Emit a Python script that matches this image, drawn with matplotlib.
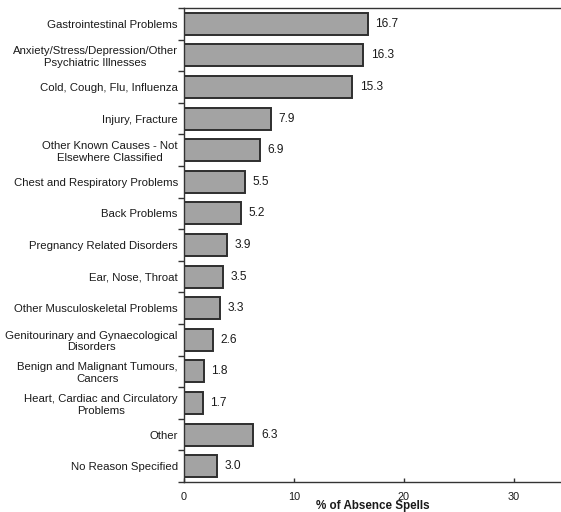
import matplotlib
matplotlib.use("Agg")
import matplotlib.pyplot as plt
from matplotlib.ticker import FixedLocator

plt.rcParams['font.family'] = ['Liberation Sans', 'DejaVu Sans']

categories = [
    "Gastrointestinal Problems",
    "Anxiety/Stress/Depression/Other\nPsychiatric Illnesses",
    "Cold, Cough, Flu, Influenza",
    "Injury, Fracture",
    "Other Known Causes - Not\nElsewhere Classified",
    "Chest and Respiratory Problems",
    "Back Problems",
    "Pregnancy Related Disorders",
    "Ear, Nose, Throat",
    "Other Musculoskeletal Problems",
    "Genitourinary and Gynaecological\nDisorders",
    "Benign and Malignant Tumours,\nCancers",
    "Heart, Cardiac and Circulatory\nProblems",
    "Other",
    "No Reason Specified",
]
values = [16.7, 16.3, 15.3, 7.9, 6.9, 5.5, 5.2, 3.9, 3.5, 3.3, 2.6, 1.8, 1.7, 6.3, 3.0]
xticks = [0, 10, 20, 30]

fig = plt.figure(figsize=(5.61, 5.12), dpi=100)
ax = fig.add_axes([184 / 561, 1 - 482 / 512, 1 - 184 / 561, (482 - 8) / 512])

ypos = list(range(len(categories)))
ax.barh(ypos, values, height=0.7, color="#a3a3a3", edgecolor="#2e2e2e", linewidth=1.4)

for y, v in zip(ypos, values):
    ax.text(v + 0.7, y, f"{v:.1f}", va="center", ha="left", fontsize=8.6, color="#1a1a1a")

ax.set_ylim(len(categories) - 0.5, -0.5)
ax.set_xlim(0, (561 - 184) / 11.0)
ax.set_yticks(ypos)
ax.set_yticklabels(categories, fontsize=8.2, color="#1a1a1a", linespacing=1.2,
                   multialignment="center")
ax.tick_params(axis="y", length=0, pad=4.5)
ax.yaxis.set_minor_locator(FixedLocator([i + 0.5 for i in range(-1, len(categories))]))
ax.tick_params(axis="y", which="minor", length=4, width=1, color="#333333", direction="out")

ax.set_xticks(xticks)
ax.set_xticklabels([str(t) for t in xticks], fontsize=7.8, color="#1a1a1a")
ax.tick_params(axis="x", length=3, width=1, direction="in", pad=7, color="#333333")
ax.set_xlabel("% of Absence Spells", fontsize=8.4, fontweight="bold", labelpad=-1, color="#1a1a1a")

for side in ["left", "bottom", "top"]:
    ax.spines[side].set_color("#333333")
    ax.spines[side].set_linewidth(1.0)
ax.spines["right"].set_visible(False)

fig.savefig("out.png", dpi=100)
